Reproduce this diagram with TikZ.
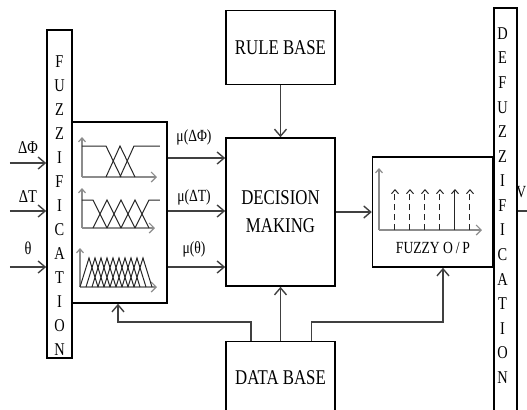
\documentclass[tikz,border=0pt]{standalone}
\usepackage{fontspec}
\setmainfont{Liberation Serif}[FakeStretch=0.8]
\usepackage{tikz}
\usetikzlibrary{arrows.meta,calc,positioning}

\begin{document}
\begin{tikzpicture}[%
    x=0.5pt, y=-0.5pt,
    >={Straight Barb[length=3.5pt,width=6pt]},
    block/.style={draw, line width=0.8pt, inner sep=0pt, align=center,
      font=\fontsize{10.5}{14}\selectfont},
    vtext/.style={inner sep=0pt, align=center, font=\fontsize{9}{12}\selectfont},
    lbl/.style={inner sep=1pt, font=\fontsize{8.5}{10}\selectfont},
    link/.style={black!75, line width=0.7pt},
    axis/.style={black!45, line width=0.6pt},
    mf/.style={black!85, line width=0.5pt},
    tip/.style={-{Straight Barb[length=2.5pt,width=5pt]}},
    small/.style={-{Straight Barb[length=2pt,width=3.5pt]}}
  ]
  \useasboundingbox (0,0) rectangle (527,409);

  \node[block, minimum width=12.5pt, minimum height=164pt] (fuzz) at (59.5,194) {};
  \node[vtext] (fuzztxt) at (59.5,206) {F\\U\\Z\\Z\\I\\F\\I\\C\\A\\T\\I\\O\\N};
  \node[block, minimum width=47.5pt, minimum height=90.5pt] (mf) at (119.5,212.5) {};
  \node[block, minimum width=54.5pt, minimum height=74pt] (dm) at (280.5,212) {DECISION\\MAKING};
  \node[block, minimum width=54.5pt, minimum height=37pt] (rule) [above=26pt of dm] {RULE BASE};
  \node[block, minimum width=54.5pt, minimum height=36pt] (data) [below=27pt of dm] {DATA BASE};
  \node[block, minimum width=60pt, minimum height=55pt] (fop) [right=18pt of dm] {};
  \node[block, minimum width=11.5pt, minimum height=204pt] (defuzz) [right=0pt of fop] {};
  \node[vtext, font=\fontsize{9}{12.3}\selectfont] (defuzztxt) at (502.5,205.5)
    {D\\E\\F\\U\\Z\\Z\\I\\F\\I\\C\\A\\T\\I\\O\\N};

  % inputs
  \coordinate (inphi) at (10,163);
  \coordinate (indt) at (10,211);
  \coordinate (inth) at (10,267);
  \coordinate (muphi) at (0,158);
  \draw[link,->] (inphi) -- (inphi -| fuzz.west);
  \draw[link,->] (indt) -- (indt -| fuzz.west);
  \draw[link,->] (inth) -- (inth -| fuzz.west);
  \node[lbl, font=\fontsize{9}{10}\selectfont] (lphi) at (28,148) {ΔΦ};
  \node[lbl, font=\fontsize{9}{10}\selectfont] (ldt) at (28,197) {ΔT};
  \node[lbl, font=\fontsize{9}{10}\selectfont] (lth) at (28,248) {θ};

  % memberships
  \draw[link,->] (mf.east |- muphi) -- (dm.west |- muphi);
  \draw[link,->] (mf.east |- indt) -- (dm.west |- indt);
  \draw[link,->] (mf.east |- inth) -- (dm.west |- inth);
  \node[lbl] (lmuphi) at (194,137) {μ(ΔΦ)};
  \node[lbl] (lmudt) at (194,197) {μ(ΔT)};
  \node[lbl] (lmuth) at (194,249) {μ(θ)};

  \path[link,->] (rule) edge (dm);
  \path[link,->] (data) edge (dm);
  \path[link,->] (dm) edge (fop);

  % data base feedback
  \coordinate (fbl) at (118,322);
  \coordinate (fbr) at (443,322);
  \draw[link,->] ([xshift=13pt]data.north west) |- (fbl) -- (fbl |- mf.south);
  \draw[link,->] ([xshift=-12pt]data.north east) |- (fbr) -- (fbr |- fop.south);

  % output
  \coordinate (vend) at (527,211);
  \draw[link] (vend -| defuzz.east) -- (vend);
  \node[lbl, anchor=west] (vlbl) at (514,192) {V};

  % membership functions
  \draw[axis,small] (82,177) -- (82,137);
  \draw[axis,tip] (82,177) -- (157,177);
  \draw[mf] (82,146) -- (106,146) -- (121,177);
  \draw[mf] (106,177) -- (120,146) -- (135,177);
  \draw[mf] (120,177) -- (134,146) -- (160,146);

  \draw[axis,small] (82,228) -- (82,188);
  \draw[axis,tip] (82,228) -- (155,228);
  \draw[mf] (82,200) -- (93,200) -- (107,228);
  \foreach \p in {107,121,135}
    \draw[mf] (\p-14,228) -- (\p,200) -- (\p+14,228);
  \draw[mf] (135,228) -- (149,200) -- (160,200);

  \draw[axis,small] (80,287) -- (80,248);
  \draw[axis,tip] (80,287) -- (157,287);
  \foreach \p in {89,95,...,143}
    \draw[mf] (\p-9,287) -- (\p,258) -- (\p+9,287);

  % fuzzy output
  \draw[axis,small] (379,230) -- (379,168);
  \draw[axis,tip] (379,230) -- (482,230);
  \foreach \x in {395,410,425,440,470}
    \draw[mf,small,densely dashed] (\x,230) -- (\x,189);
  \draw[mf,small] (455,230) -- (455,189);
  \node[lbl] (foptxt) at (433,248) {FUZZY O\,/\,P};

\end{tikzpicture}
\end{document}
